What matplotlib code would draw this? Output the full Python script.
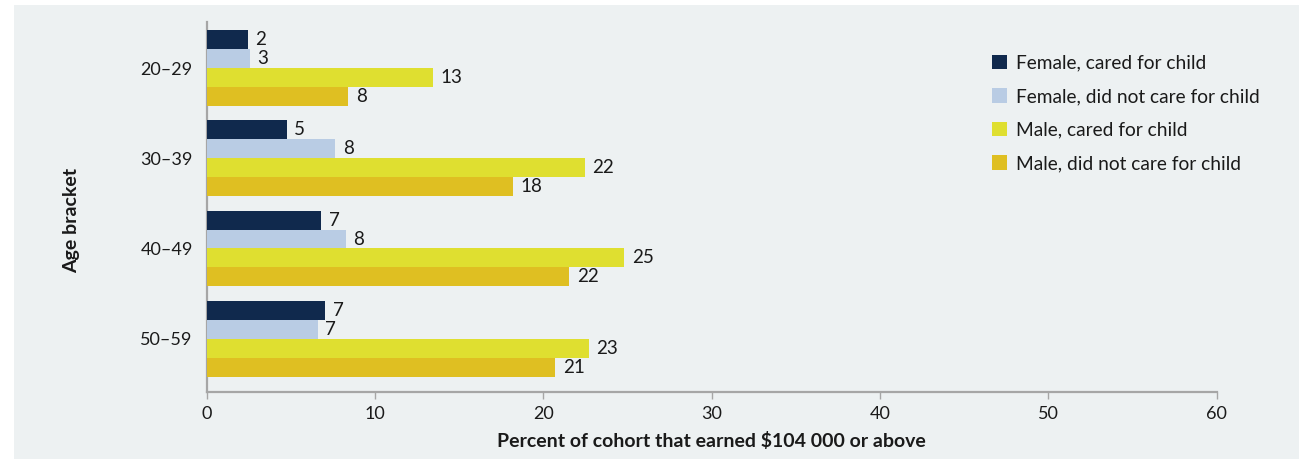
import matplotlib
matplotlib.use("Agg")
import matplotlib.pyplot as plt
from matplotlib.patches import Rectangle
import numpy as np

plt.rcParams['font.family'] = ['Lato', 'DejaVu Sans']

age_brackets = ["20–29", "30–39", "40–49", "50–59"]
series_names = [
    "Female, cared for child",
    "Female, did not care for child",
    "Male, cared for child",
    "Male, did not care for child",
]
female_cared = [2.45, 4.75, 6.8, 7.05]
female_not_cared = [2.57, 7.65, 8.25, 6.6]
male_cared = [13.45, 22.45, 24.8, 22.7]
male_not_cared = [8.4, 18.2, 21.55, 20.7]
x_ticks = [0, 10, 20, 30, 40, 50, 60]

series_values = [female_cared, female_not_cared, male_cared, male_not_cared]
colors = ["#10294d", "#b9cce4", "#dfdf30", "#dfbf22"]
panel_bg = "#edf1f2"
axis_grey = "#a6a6a6"
text_col = "#1a1a1a"

W, H = 1307, 459
fig = plt.figure(figsize=(W / 100, H / 100), dpi=100, facecolor="white")
fig.patches.append(Rectangle((14 / W, 0), (1299 - 14) / W, (H - 5) / H,
                             transform=fig.transFigure, facecolor=panel_bg,
                             edgecolor="none", zorder=-10))

ax = fig.add_axes([206.7 / W, 66.7 / H, (1216.7 - 206.7) / W, (392.3 - 22) / H])
ax.set_facecolor("none")

bar_h = 0.21
y = np.arange(len(age_brackets))
offsets = (np.arange(4) - 1.5) * bar_h
for vals, off, col, name in zip(series_values, offsets, colors, series_names):
    ax.barh(y + off, vals, height=bar_h, color=col, label=name, zorder=3)
    for yi, v in zip(y, vals):
        ax.text(v + 0.45, yi + off, f"{v:.0f}", va="center", ha="left",
                fontsize=13.5, color=text_col)

ax.set_xlim(0, 60)
ax.set_ylim(3.594, -0.51)
ax.set_xticks(x_ticks)
ax.set_xticklabels([str(t) for t in x_ticks], fontsize=13, color=text_col)
ax.set_yticks(y)
ax.set_yticklabels(age_brackets, fontsize=13, color=text_col)
ax.tick_params(axis="y", length=0, pad=10)
ax.tick_params(axis="x", length=5, width=1, color=axis_grey, pad=5)

for side in ["top", "right"]:
    ax.spines[side].set_visible(False)
for side in ["left", "bottom"]:
    ax.spines[side].set_color(axis_grey)
    ax.spines[side].set_linewidth(1.6)

ax.set_xlabel("Percent of cohort that earned $104 000 or above",
              fontsize=14, fontweight="bold", color=text_col, labelpad=7)
fig.text(72 / W, 1 - 220 / H, "Age bracket", rotation=90, fontsize=14,
         fontweight="bold", color=text_col, ha="center", va="center")

leg = ax.legend(loc="upper left",
                bbox_to_anchor=((984 - 206.7) / (1216.7 - 206.7), 1 - (47 - 22) / (392.3 - 22)),
                frameon=False, fontsize=13.75, handlelength=0.8, handleheight=0.8,
                handletextpad=0.45, labelspacing=0.86, borderaxespad=0)
for t in leg.get_texts():
    t.set_color(text_col)

fig.savefig("out.png", dpi=100, facecolor="white")
